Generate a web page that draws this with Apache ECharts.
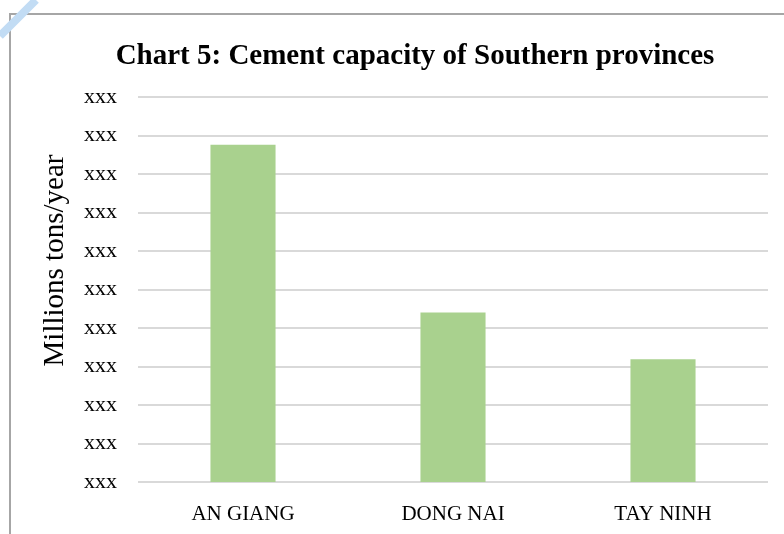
<!DOCTYPE html>
<html>
<head>
<meta charset="utf-8">
<script src="https://cdn.jsdelivr.net/npm/echarts@6/dist/echarts.min.js"></script>
<style>
  html, body { margin: 0; padding: 0; background: #fff; }
  #chart { width: 784px; height: 534px; }
</style>
</head>
<body>
<div id="chart"></div>
<script>
// data
var provinces = ['AN GIANG', 'DONG NAI', 'TAY NINH'];
var capacity = [8.76, 4.40, 3.19];
var tickLabel = 'xxx';   // every y tick is masked as "xxx"

var font = '"Liberation Serif", "DejaVu Serif", serif';

var chart = echarts.init(document.getElementById('chart'));

var option = {
    backgroundColor: '#fff',
    animation: false,
    title: {
        text: 'Chart 5: Cement capacity of Southern provinces',
        left: 410,
        top: 37,
        textAlign: 'center',
        textStyle: {
            fontFamily: font,
            fontWeight: 'bold',
            fontSize: 29,
            color: '#000'
        }
    },
    grid: {
        left: 138,
        right: 16,
        top: 97,
        bottom: 52
    },
    xAxis: {
        type: 'category',
        data: provinces,
        axisLine: { show: false },
        axisTick: { show: false },
        axisLabel: {
            margin: 22,
            fontFamily: font,
            fontSize: 21,
            color: '#000'
        }
    },
    yAxis: {
        type: 'value',
        min: 0,
        max: 10,
        interval: 1,
        name: 'Millions tons/year',
        nameLocation: 'middle',
        nameGap: 68,
        nameRotate: 90,
        nameTextStyle: {
            fontFamily: font,
            fontSize: 29,
            color: '#000',
            padding: [0, 0, 0, 58]
        },
        axisLabel: {
            margin: 21,
            fontFamily: font,
            fontSize: 22,
            color: '#000',
            lineHeight: 28,
            padding: [5, 0, 0, 0],
            formatter: function () { return tickLabel; }
        },
        splitLine: {
            lineStyle: { color: '#d9d9d9', width: 2 }
        }
    },
    series: [{
        type: 'bar',
        data: capacity,
        barWidth: '31%',
        itemStyle: { color: '#a9d18e' }
    }],
    graphic: [
        {
            type: 'rect',
            shape: { x: 10, y: 14, width: 800, height: 560 },
            style: { fill: 'none', stroke: '#a6a6a6', lineWidth: 2 },
            silent: true
        },
        {
            type: 'line',
            shape: { x1: 0, y1: 36, x2: 36, y2: 0 },
            style: { stroke: '#c2dcf4', lineWidth: 8 },
            silent: true
        }
    ]
};

chart.setOption(option);
</script>
</body>
</html>
